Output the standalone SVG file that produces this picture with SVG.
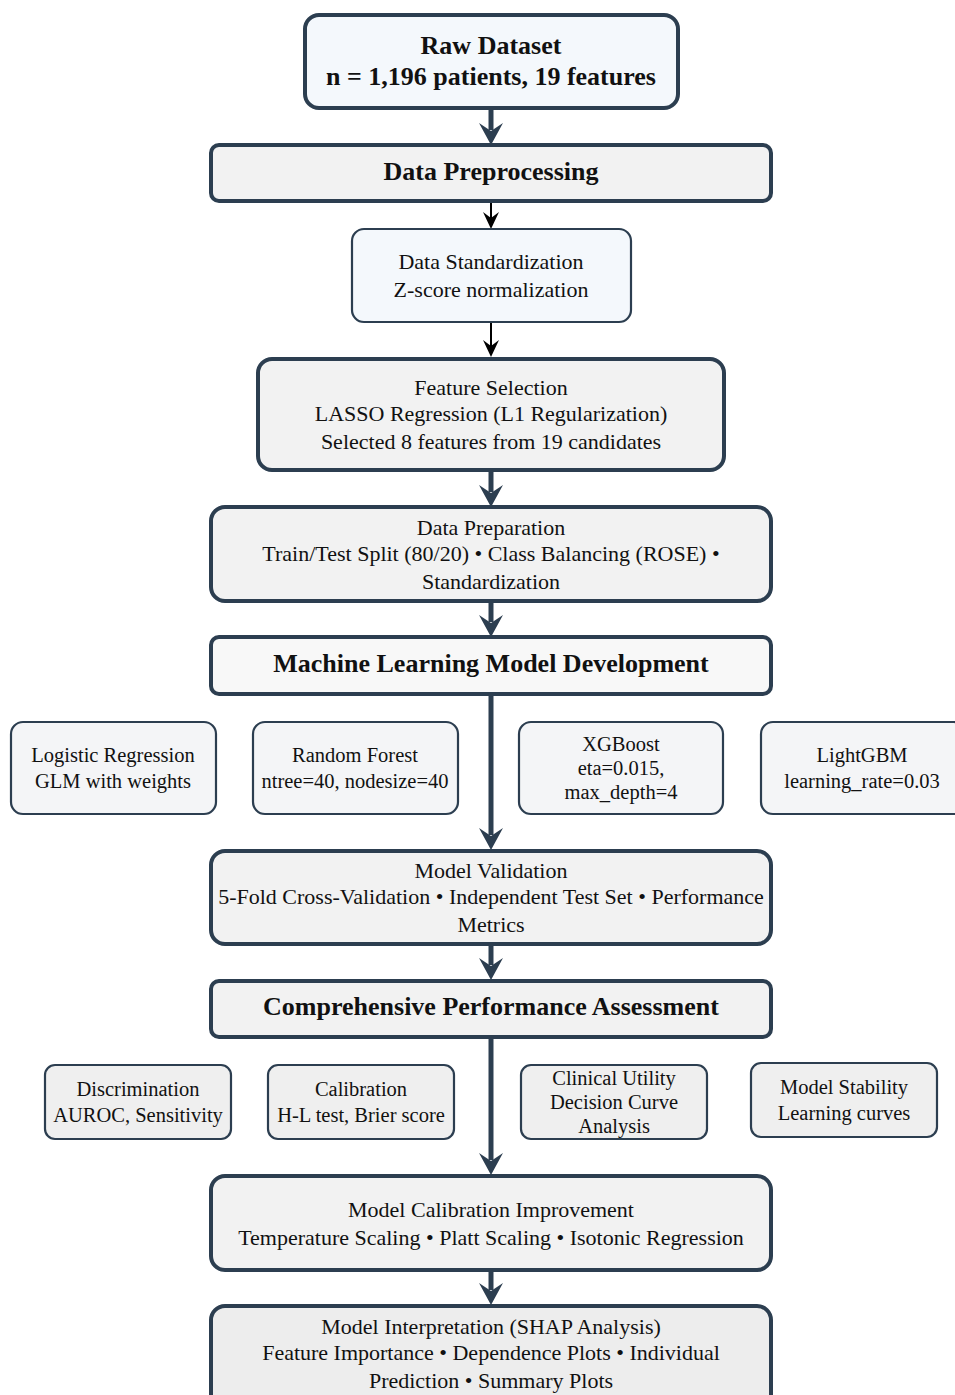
<svg xmlns="http://www.w3.org/2000/svg" width="955" height="1395" viewBox="0 0 955 1395">
<style>
text{font-family:'Liberation Serif','Times New Roman','DejaVu Serif',serif;fill:#111;text-anchor:middle}
.h{font-size:26px;font-weight:bold}
.t{font-size:22px}
.u{font-size:20.5px}
.main{stroke:#2c3e50;stroke-width:4}
.sub{stroke:#2c3e50;stroke-width:2.2}
.blue{fill:#f4f8fc}
.grey{fill:#f2f2f2}
.white{fill:#f8f8f8}
.thick{stroke:#2c3e50;stroke-width:5;fill:none}
.thin{stroke:#000;stroke-width:2;fill:none}
</style>
<rect width="955" height="1395" fill="#fff"/>
<g id="connectors">
<line class="thick" x1="491" y1="108" x2="491" y2="130"/>
<path d="M479,123 L491,131 L503,123 L491,145 Z" fill="#2c3e50"/>
<line class="thin" x1="491" y1="201" x2="491" y2="218"/>
<path d="M483,212 L491,218 L499,212 L491,229 Z" fill="#000"/>
<line class="thin" x1="491" y1="322" x2="491" y2="346"/>
<path d="M483,340 L491,346 L499,340 L491,357 Z" fill="#000"/>
<line class="thick" x1="491" y1="470" x2="491" y2="492"/>
<path d="M479,485 L491,493 L503,485 L491,507 Z" fill="#2c3e50"/>
<line class="thick" x1="491" y1="601" x2="491" y2="622"/>
<path d="M479,615 L491,623 L503,615 L491,637 Z" fill="#2c3e50"/>
<line class="thick" x1="491" y1="694" x2="491" y2="835"/>
<path d="M479,828 L491,836 L503,828 L491,850 Z" fill="#2c3e50"/>
<line class="thick" x1="491" y1="944" x2="491" y2="965"/>
<path d="M479,958 L491,966 L503,958 L491,980 Z" fill="#2c3e50"/>
<line class="thick" x1="491" y1="1037" x2="491" y2="1160"/>
<path d="M479,1153 L491,1161 L503,1153 L491,1175 Z" fill="#2c3e50"/>
<line class="thick" x1="491" y1="1270" x2="491" y2="1290"/>
<path d="M479,1283 L491,1291 L503,1283 L491,1305 Z" fill="#2c3e50"/>
</g>
<g id="raw">
<rect class="main blue" x="305" y="15" width="373" height="93" rx="14"/>
<text class="h" x="491" y="54">Raw Dataset</text>
<text class="h" x="491" y="85">n = 1,196 patients, 19 features</text>
</g>
<g id="preproc">
<rect class="main grey" x="211" y="145" width="560" height="56" rx="8"/>
<text class="h" x="491" y="180">Data Preprocessing</text>
</g>
<g id="standard">
<rect class="sub blue" x="352" y="229" width="279" height="93" rx="12"/>
<text class="t" x="491" y="269">Data Standardization</text>
<text class="t" x="491" y="297">Z-score normalization</text>
</g>
<g id="featsel">
<rect class="main grey" x="258" y="359" width="466" height="111" rx="14"/>
<text class="t" x="491" y="395">Feature Selection</text>
<text class="t" x="491" y="421">LASSO Regression (L1 Regularization)</text>
<text class="t" x="491" y="449">Selected 8 features from 19 candidates</text>
</g>
<g id="dataprep">
<rect class="main grey" x="211" y="507" width="560" height="94" rx="14"/>
<text class="t" x="491" y="535">Data Preparation</text>
<text class="t" x="491" y="561">Train/Test Split (80/20) • Class Balancing (ROSE) •</text>
<text class="t" x="491" y="589">Standardization</text>
</g>
<g id="mldev">
<rect class="main white" x="211" y="637" width="560" height="57" rx="8"/>
<text class="h" x="491" y="672">Machine Learning Model Development</text>
</g>
<g id="lr">
<rect class="sub" x="11" y="722" width="205" height="92" rx="12" fill="#f4f5f7"/>
<text class="u" x="113" y="762">Logistic Regression</text>
<text class="u" x="113" y="788">GLM with weights</text>
</g>
<g id="rf">
<rect class="sub" x="253" y="722" width="205" height="92" rx="12" fill="#f4f5f7"/>
<text class="u" x="355" y="762">Random Forest</text>
<text class="u" x="355" y="788">ntree=40, nodesize=40</text>
</g>
<g id="xgb">
<rect class="sub" x="519" y="722" width="204" height="92" rx="12" fill="#f4f5f7"/>
<text class="u" x="621" y="751">XGBoost</text>
<text class="u" x="621" y="775">eta=0.015,</text>
<text class="u" x="621" y="799">max_depth=4</text>
</g>
<g id="lgbm">
<rect class="sub" x="761" y="722" width="205" height="92" rx="12" fill="#f4f5f7"/>
<text class="u" x="862" y="762">LightGBM</text>
<text class="u" x="862" y="788">learning_rate=0.03</text>
</g>
<g id="valid">
<rect class="main grey" x="211" y="851" width="560" height="93" rx="14"/>
<text class="t" x="491" y="878">Model Validation</text>
<text class="t" x="491" y="904">5-Fold Cross-Validation • Independent Test Set • Performance</text>
<text class="t" x="491" y="932">Metrics</text>
</g>
<g id="assess">
<rect class="main grey" x="211" y="981" width="560" height="56" rx="8"/>
<text class="h" x="491" y="1015">Comprehensive Performance Assessment</text>
</g>
<g id="disc">
<rect class="sub" x="45" y="1065" width="186" height="74" rx="10" fill="#efefef"/>
<text class="u" x="138" y="1096">Discrimination</text>
<text class="u" x="138" y="1122">AUROC, Sensitivity</text>
</g>
<g id="calib">
<rect class="sub" x="268" y="1065" width="186" height="74" rx="10" fill="#efefef"/>
<text class="u" x="361" y="1096">Calibration</text>
<text class="u" x="361" y="1122">H-L test, Brier score</text>
</g>
<g id="clin">
<rect class="sub" x="521" y="1065" width="186" height="74" rx="10" fill="#efefef"/>
<text class="u" x="614" y="1085">Clinical Utility</text>
<text class="u" x="614" y="1109">Decision Curve</text>
<text class="u" x="614" y="1133">Analysis</text>
</g>
<g id="stab">
<rect class="sub" x="751" y="1063" width="186" height="74" rx="10" fill="#efefef"/>
<text class="u" x="844" y="1094">Model Stability</text>
<text class="u" x="844" y="1120">Learning curves</text>
</g>
<g id="calimp">
<rect class="main grey" x="211" y="1176" width="560" height="94" rx="14"/>
<text class="t" x="491" y="1217">Model Calibration Improvement</text>
<text class="t" x="491" y="1245">Temperature Scaling • Platt Scaling • Isotonic Regression</text>
</g>
<g id="interp">
<rect class="main" x="211" y="1306" width="560" height="110" rx="14" fill="#ededed"/>
<text class="t" x="491" y="1334">Model Interpretation (SHAP Analysis)</text>
<text class="t" x="491" y="1360">Feature Importance • Dependence Plots • Individual</text>
<text class="t" x="491" y="1388">Prediction • Summary Plots</text>
</g>
</svg>
